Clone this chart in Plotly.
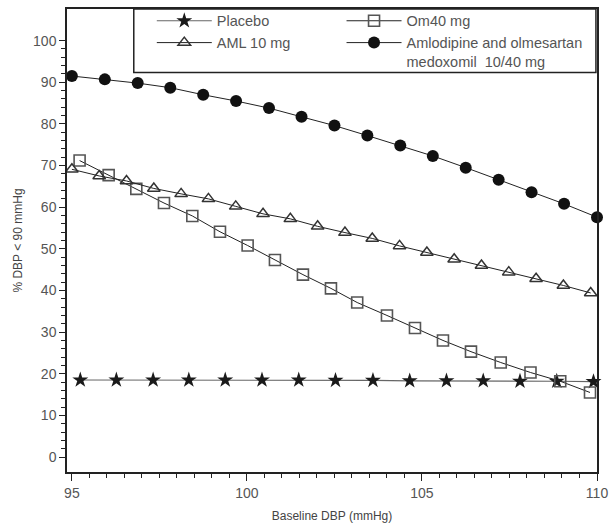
import plotly.graph_objects as go

# ---- data ----
placebo_x = [95.24, 96.27, 97.32, 98.34, 99.38, 100.43, 101.48, 102.53, 103.6, 104.65, 105.7, 106.75, 107.8, 108.85, 109.9]
placebo_y = [18.5, 18.5, 18.5, 18.5, 18.5, 18.5, 18.5, 18.4, 18.4, 18.3, 18.3, 18.3, 18.2, 18.2, 18.1]

om_x = [95.22, 96.05, 96.84, 97.63, 98.44, 99.23, 100.02, 100.8, 101.6, 102.4, 103.15,
        104.0, 104.8, 105.6, 106.4, 107.25, 108.1, 108.95, 109.8]
om_y = [71.2, 67.7, 64.4, 61.0, 57.9, 54.1, 50.8, 47.3, 43.8, 40.5, 37.1,
        34.0, 31.0, 28.0, 25.3, 22.7, 20.3, 18.2, 15.5]

aml_x = [95.0, 95.78, 96.56, 97.34, 98.12, 98.9, 99.68, 100.46, 101.24, 102.02,
         102.8, 103.58, 104.36, 105.14, 105.92, 106.7, 107.48, 108.26, 109.04, 109.82]
aml_y = [69.1, 67.5, 66.3, 64.5, 63.2, 62.0, 60.2, 58.4, 57.2, 55.4,
         53.9, 52.5, 50.7, 49.1, 47.5, 46.0, 44.4, 42.8, 41.2, 39.4]

combo_x = [95.0, 95.94, 96.88, 97.81, 98.75, 99.69, 100.63, 101.56, 102.5,
           103.44, 104.38, 105.31, 106.25, 107.19, 108.13, 109.06, 110.0]
combo_y = [91.5, 90.7, 89.8, 88.7, 87.0, 85.5, 83.8, 81.7, 79.6,
           77.2, 74.8, 72.3, 69.5, 66.6, 63.6, 60.8, 57.6]

names = ["Placebo", "Om40 mg", "AML 10 mg", "Amlodipine and olmesartan<br>medoxomil  10/40 mg"]

y_major = list(range(0, 101, 10))
y_minor = [v for v in range(2, 100, 2) if v % 10 != 0]
x_major = [95, 100, 105, 110]

FONT = "Liberation Sans Narrow, Liberation Sans, Arial, sans-serif"
TXT = "#555555"

fig = go.Figure()
fig.add_trace(go.Scatter(
    x=placebo_x, y=placebo_y, name=names[0], mode="lines+markers", legend="legend",
    line=dict(color="#666666", width=1.2),
    marker=dict(symbol="star", size=12, color="#1a1a1a", line=dict(width=0)),
    cliponaxis=False))
fig.add_trace(go.Scatter(
    x=om_x, y=om_y, name=names[1], mode="lines+markers", legend="legend2",
    line=dict(color="#222222", width=1),
    marker=dict(symbol="square-open", size=11, color="#555555", line=dict(width=1.6)),
    cliponaxis=False))
fig.add_trace(go.Scatter(
    x=aml_x, y=aml_y, name=names[2], mode="lines+markers", legend="legend",
    line=dict(color="#222222", width=1),
    marker=dict(symbol="triangle-up-open", size=11, color="#333333", line=dict(width=1.5)),
    cliponaxis=False))
fig.add_trace(go.Scatter(
    x=combo_x, y=combo_y, name=names[3], mode="lines+markers", legend="legend2",
    line=dict(color="#222222", width=1),
    marker=dict(symbol="circle", size=12, color="#111111"),
    cliponaxis=False))

legend_common = dict(
    orientation="v", yanchor="top", y=1.009, xanchor="left",
    bgcolor="rgba(0,0,0,0)", borderwidth=0, itemwidth=55, valign="top",
    traceorder="normal", font=dict(family=FONT, size=14.5, color=TXT),
)

fig.update_layout(
    width=613, height=529,
    margin=dict(l=67, r=16, t=5, b=57),
    paper_bgcolor="white", plot_bgcolor="white",
    font=dict(family=FONT, size=13, color=TXT),
    showlegend=True,
    legend=dict(x=0.160, **legend_common),
    legend2=dict(x=0.518, **legend_common),
    shapes=[dict(type="rect", xref="paper", yref="paper",
                 x0=0.126, x1=0.998, y0=0.863, y1=1.0,
                 line=dict(color="#222222", width=1.5), fillcolor="white", layer="below")],
    xaxis=dict(
        range=[94.86, 110.0], showgrid=False, zeroline=False,
        showline=True, linecolor="#222222", linewidth=1.5, mirror=True,
        tickmode="array", tickvals=x_major, ticks="outside", ticklen=7,
        tickcolor="#222222", tickwidth=1.3,
        minor=dict(dtick=0.5, tick0=95, ticks="outside", ticklen=4, tickcolor="#222222", tickwidth=1.2),
        title=dict(text="Baseline DBP (mmHg)", font=dict(size=12, color="#444444"), standoff=12),
        tickfont=dict(size=14, color=TXT),
    ),
    yaxis=dict(
        range=[-3.6, 107.6], showgrid=False, zeroline=False,
        showline=True, linecolor="#222222", linewidth=1.5, mirror=True,
        tickmode="array", tickvals=y_major, ticks="outside", ticklen=6,
        tickcolor="#222222", tickwidth=1.3,
        minor=dict(tickmode="array", tickvals=y_minor, ticks="outside", ticklen=4, tickcolor="#222222", tickwidth=1.2),
        title=dict(text="% DBP < 90 mmHg", font=dict(size=12, color="#444444"), standoff=8),
        tickfont=dict(size=14, color=TXT),
    ),
)

fig.write_html("out.html", config={"displayModeBar": False},
               post_script="document.body.style.margin='0';")
